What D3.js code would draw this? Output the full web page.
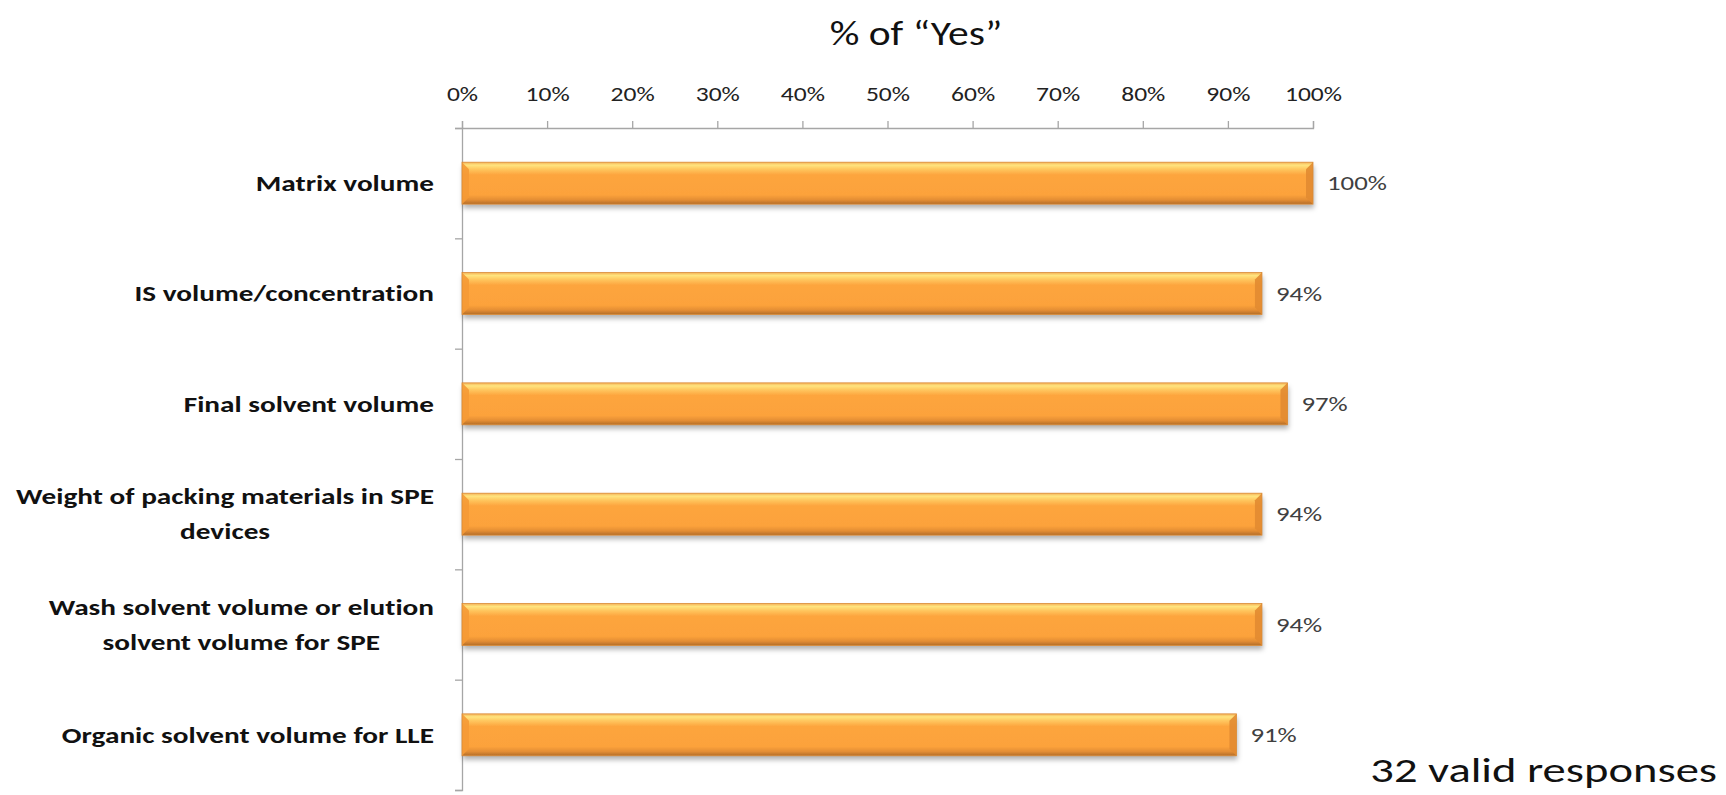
<!DOCTYPE html>
<html>
<head>
<meta charset="utf-8">
<script src="https://cdn.jsdelivr.net/npm/d3@7"></script>
<style>
  html, body { margin: 0; padding: 0; background: #fff; }
  svg { display: block; font-family: Carlito, Lato, "Noto Sans", sans-serif; font-variant-ligatures: none; }
</style>
</head>
<body>
<svg id="chart" width="1726" height="795"></svg>
<script>
// Survey results: share of "Yes" answers per parameter
const categories = [
  "Matrix volume",
  "IS volume/concentration",
  "Final solvent volume",
  "Weight of packing materials in SPE\ndevices",
  "Wash solvent volume or elution\nsolvent volume for SPE",
  "Organic solvent volume for LLE"
];
const yesPercent = [100, 94, 97, 94, 94, 91];
const xTicks = [0, 10, 20, 30, 40, 50, 60, 70, 80, 90, 100];
const titleText = "% of \u201CYes\u201D";
const noteText = "32 valid responses";

const svg = d3.select("#chart");
const plotLeft = 462, plotRight = 1313, plotTop = 128, plotBottom = 790;
// horizontal stretch applied to the lettering (wide typeface look)
const sx = 1.31;

// move a text's x/y into a transform and widen it about its anchor point
function widen(sel, k) {
  sel.each(function () {
    const t = d3.select(this);
    const px = +t.attr("x") || 0, py = +t.attr("y") || 0;
    t.attr("x", 0).attr("y", 0)
      .attr("transform", `translate(${px},${py}) scale(${k},1)`);
  });
}

const x = d3.scaleLinear().domain([0, 100]).range([plotLeft, plotRight]);
const y = d3.scaleBand().domain(categories).range([plotTop, plotBottom])
  .paddingInner(0.62).paddingOuter(0.31);
// boundaries between categories, for the left axis tick marks
const yEdge = d3.scaleLinear().domain([0, categories.length]).range([plotTop, plotBottom]);

// bar gradient and shadow
const defs = svg.append("defs");
const grad = defs.append("linearGradient").attr("id", "barFill")
  .attr("x1", 0).attr("y1", 0).attr("x2", 0).attr("y2", 1);
[[0, "#F4B157"], [0.07, "#FFE47E"], [0.16, "#FFC860"], [0.3, "#FDA53E"],
 [0.78, "#FCA23B"], [0.9, "#E38D34"], [1, "#B36D29"]]
  .forEach(([o, c]) => grad.append("stop").attr("offset", o).attr("stop-color", c));
const f = defs.append("filter").attr("id", "shadow")
  .attr("x", "-5%").attr("y", "-30%").attr("width", "110%").attr("height", "180%");
f.append("feDropShadow").attr("dx", 1).attr("dy", 4).attr("stdDeviation", 2.5)
  .attr("flood-color", "#000").attr("flood-opacity", 0.3);

// title
svg.append("text").attr("x", 916).attr("y", 45).attr("text-anchor", "middle")
  .attr("font-size", 34).attr("fill", "#111").text(titleText)
  .call(widen, 1.22);

// top axis
const xAxis = svg.append("g").attr("transform", `translate(0,${plotTop})`)
  .call(d3.axisTop(x).tickValues(xTicks).tickSize(7).tickPadding(20)
    .tickFormat(d => d + "%"));
xAxis.select(".domain").attr("stroke", "#A6A6A6").attr("stroke-width", 1.3);
xAxis.selectAll(".tick line").attr("stroke", "#A6A6A6").attr("stroke-width", 1.3);
xAxis.selectAll(".tick text").attr("font-size", 19.5).attr("fill", "#222")
  .attr("font-family", "Carlito, Lato, sans-serif")
  .call(widen, sx);

// left axis with category boundary ticks
const yAxis = svg.append("g").attr("transform", `translate(${plotLeft},0)`)
  .call(d3.axisLeft(yEdge).ticks(categories.length).tickSize(7).tickFormat(""));
yAxis.select(".domain").attr("stroke", "#A6A6A6").attr("stroke-width", 1.3);
yAxis.selectAll(".tick line").attr("stroke", "#A6A6A6").attr("stroke-width", 1.3);

// bars
const bars = svg.append("g").selectAll("g.bar").data(categories).join("g").attr("class", "bar");
bars.append("rect")
  .attr("x", x(0))
  .attr("y", d => y(d))
  .attr("width", (d, i) => x(yesPercent[i]) - x(0))
  .attr("height", y.bandwidth())
  .attr("fill", "url(#barFill)")
  .attr("filter", "url(#shadow)");
// bevelled ends
const bev = 7;
bars.append("polygon")
  .attr("points", d => {
    const x0 = x(0), y0 = y(d), y1 = y0 + y.bandwidth();
    return [[x0, y0], [x0 + bev, y0 + bev], [x0 + bev, y1 - bev], [x0, y1]].join(" ");
  })
  .attr("fill", "#F59A36").attr("opacity", 0.9);
bars.append("polygon")
  .attr("points", (d, i) => {
    const x1 = x(yesPercent[i]), y0 = y(d), y1 = y0 + y.bandwidth();
    return [[x1, y0], [x1 - bev, y0 + bev], [x1 - bev, y1 - bev], [x1, y1]].join(" ");
  })
  .attr("fill", "#E28B31").attr("opacity", 0.9);
bars.append("rect")
  .attr("x", x(0)).attr("y", d => y(d))
  .attr("width", (d, i) => x(yesPercent[i]) - x(0))
  .attr("height", y.bandwidth())
  .attr("fill", "none").attr("stroke", "#D98A36").attr("stroke-width", 0.8);

// value labels
bars.append("text")
  .attr("x", (d, i) => x(yesPercent[i]) + 14)
  .attr("y", d => y(d) + y.bandwidth() / 2 + 7)
  .attr("font-size", 20).attr("fill", "#404040")
  .text((d, i) => yesPercent[i] + "%")
  .call(widen, 1.34);

// category labels (centred lines, block right-aligned to the axis)
const lineH = 35, labelRight = 434;
svg.append("g").selectAll("text.cat").data(categories).join("text")
  .attr("class", "cat")
  .attr("font-size", 22).attr("font-weight", "bold").attr("fill", "#111")
  .each(function (d) {
    const lines = d.split("\n");
    const t = d3.select(this);
    const cy = y(d) + y.bandwidth() / 2;
    t.attr("transform", `translate(${labelRight},${cy}) scale(1.33,1)`);
    const y0 = -(lines.length - 1) * lineH / 2;
    const spans = lines.map((ln, k) => t.append("tspan").attr("y", y0 + k * lineH)
      .attr("dy", "0.35em").text(ln));
    const maxW = d3.max(spans, s => s.node().getComputedTextLength());
    spans.forEach(s => s.attr("x", -maxW / 2).attr("text-anchor", "middle"));
  });

// footnote
svg.append("text").attr("x", 1717).attr("y", 782).attr("text-anchor", "end")
  .attr("font-size", 35).attr("fill", "#111").text(noteText)
  .call(widen, 1.33);
</script>
</body>
</html>
